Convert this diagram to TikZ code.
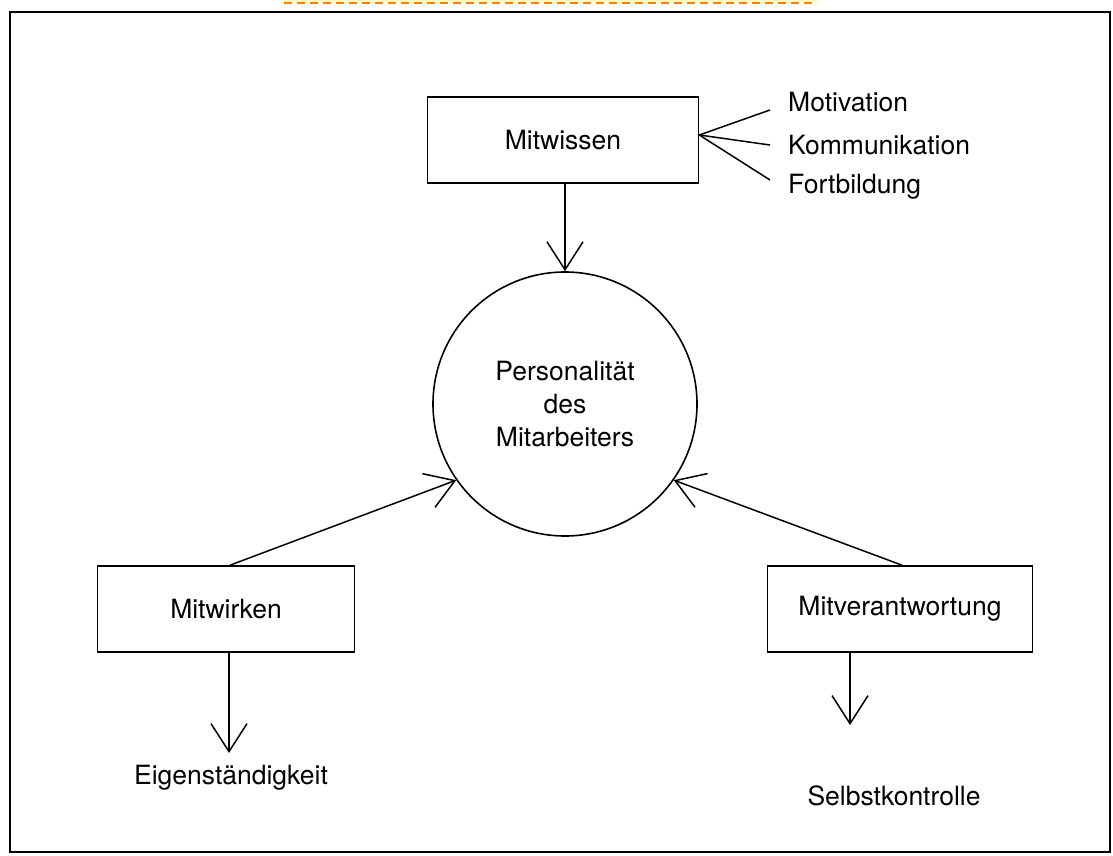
\documentclass[tikz,border=0pt]{standalone}
\usepackage{fontspec}
\setmainfont{TeX Gyre Heros}
\usetikzlibrary{arrows.meta}
\begin{document}
\begin{tikzpicture}[x=1pt,y=-1pt,
  lbl/.style={font=\fontsize{26.5}{31}\selectfont, inner sep=0pt, align=center},
  boxnode/.style={draw, line width=1.6pt, minimum width=#1, minimum height=86pt, inner sep=0pt, font=\fontsize{26.5}{31}\selectfont},
  lnk/.style={line width=1.5pt},
  arr/.style={line width=1.5pt, -{Straight Barb[length=28pt,width=36pt,line width=1.5pt]}}]
\useasboundingbox (0,0) rectangle (1113,856);
% annotation strip at top
\fill[yellow!25] (284,0) rectangle (817,3);
\draw[orange, line width=2pt, dash pattern=on 8pt off 5pt] (284,3) -- (817,3);
% frame
\draw[line width=2pt] (10,12) rectangle (1110,852);
% nodes
\node[boxnode=271pt] (wissen) at (563,140) {Mitwissen};
\node[circle, draw, line width=1.6pt, minimum size=264pt, inner sep=0pt, lbl] (pers) at (565,404) {Personalität\\[2pt]des\\[2pt]Mitarbeiters};
\node[boxnode=257pt] (wirken) at (226,609) {Mitwirken};
\node[boxnode=265pt] (verant) at (900,609) {Mitverantwortung};
\node[lbl, anchor=west] (mot) at (788,102) {Motivation};
\node[lbl, anchor=west] (kom) at (788,145) {Kommunikation};
\node[lbl, anchor=west] (fort) at (788,187) {Fortbildung};
\node[lbl] (eigen) at (231,778) {Eigenständigkeit};
\node[lbl] (selbst) at (894,796) {Selbstkontrolle};
% fan lines
\coordinate (fan) at ([yshift=5pt]wissen.east);
\coordinate (m1) at (770,110);
\coordinate (m2) at (770,145);
\coordinate (m3) at (770,180);
\draw[lnk] (m1) -- (fan) -- (m3);
\draw[lnk] (fan) -- (m2);
% arrows
\draw[arr] (wissen.south -| pers.north) -- (pers.north);
\draw[arr] ([xshift=4pt]wirken.north) -- (pers.215);
\draw[arr] ([xshift=2pt]verant.north) -- (pers.325);
\coordinate (e1) at (229,753);
\coordinate (s1) at (850,725);
\draw[arr] (wirken.south -| e1) -- (e1);
\draw[arr] (verant.south -| s1) -- (s1);
\end{tikzpicture}
\end{document}
